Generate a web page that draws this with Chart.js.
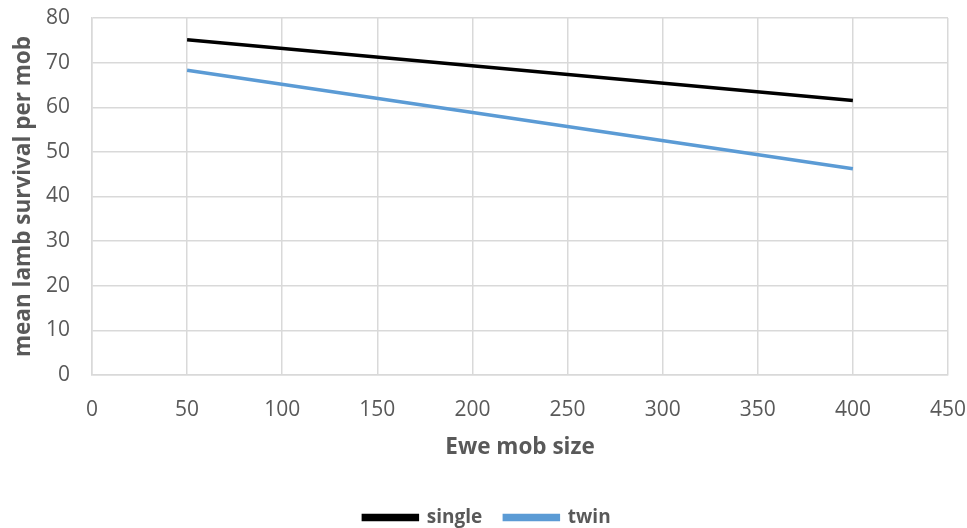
<!DOCTYPE html>
<html>
<head>
<meta charset="utf-8">
<script src="https://cdn.jsdelivr.net/npm/chart.js@4/dist/chart.umd.min.js"></script>
<style>
  html, body { margin: 0; padding: 0; background: #fff; }
  #wrap { width: 967px; height: 528px; }
</style>
</head>
<body>
<div id="wrap"><canvas id="mycanvas" width="967" height="528"></canvas></div>
<script>
// ewe mob size vs mean lamb survival
var mobSize = [50, 400];
var single = [75.1, 61.5];
var twin = [68.3, 46.2];
var xTicks = [0, 50, 100, 150, 200, 250, 300, 350, 400, 450];
var yTicks = [0, 10, 20, 30, 40, 50, 60, 70, 80];

function toPoints(xs, ys) {
  var pts = [];
  for (var i in xs) {
    pts.push({ x: xs[i], y: ys[i] });
  }
  return pts;
}

var grey = '#595959';
var gridColor = '#d9d9d9';
var font = "'Open Sans', sans-serif";

// fixed box sizes so the plot area lands where we want it
var yAxisWidth = 92;
var xAxisHeight = 111;
var legendHeight = 42;
var legendShift = 13;

// keep the legend item gap wide but the legend strip short
var shortLegend = {
  id: 'shortLegend',
  afterInit: function(chart) {
    var lg = chart.legend;
    if (!lg) return;
    var fit = lg.fit;
    lg.fit = function() {
      fit.call(this);
      this.height = legendHeight;
    };
  },
  afterLayout: function(chart) {
    var lg = chart.legend;
    if (!lg) return;
    lg.left += legendShift;
    lg.right += legendShift;
  }
};

function noOverflow(axis) {
  axis.paddingLeft = 0;
  axis.paddingRight = 0;
  axis.paddingTop = 0;
  axis.paddingBottom = 0;
}

var ctx = document.getElementById('mycanvas');

new Chart(ctx, {
  type: 'scatter',
  plugins: [shortLegend],
  data: {
    datasets: [
      {
        label: 'single',
        data: toPoints(mobSize, single),
        showLine: true,
        borderColor: '#000000',
        backgroundColor: '#000000',
        borderWidth: 3.5,
        pointRadius: 0,
        pointHoverRadius: 0
      },
      {
        label: 'twin',
        data: toPoints(mobSize, twin),
        showLine: true,
        borderColor: '#5b9bd5',
        backgroundColor: '#5b9bd5',
        borderWidth: 3.5,
        pointRadius: 0,
        pointHoverRadius: 0
      }
    ]
  },
  options: {
    responsive: false,
    animation: false,
    layout: { padding: { left: 0, right: 19, top: 18, bottom: 0 } },
    scales: {
      x: {
        type: 'linear',
        min: xTicks[0],
        max: xTicks[xTicks.length - 1],
        afterBuildTicks: function(axis) {
          axis.ticks = xTicks.map(function(v) { return { value: v }; });
        },
        afterFit: function(axis) {
          axis.height = xAxisHeight;
          noOverflow(axis);
        },
        grid: { color: gridColor, lineWidth: 1.5, drawTicks: false },
        border: { color: gridColor, width: 1.5 },
        ticks: { color: grey, font: { family: font, size: 21 }, padding: 22, maxRotation: 0 },
        title: {
          display: true,
          text: 'Ewe mob size',
          color: grey,
          font: { family: font, size: 22.5, weight: 'bold' },
          padding: { top: 0, bottom: 25 }
        }
      },
      y: {
        type: 'linear',
        min: yTicks[0],
        max: yTicks[yTicks.length - 1],
        afterBuildTicks: function(axis) {
          axis.ticks = yTicks.map(function(v) { return { value: v }; });
        },
        afterFit: function(axis) {
          axis.width = yAxisWidth;
          noOverflow(axis);
        },
        grid: { color: gridColor, lineWidth: 1.5, drawTicks: false },
        border: { color: gridColor, width: 1.5 },
        ticks: { color: grey, font: { family: font, size: 21 }, padding: 22 },
        title: {
          display: true,
          text: 'mean lamb survival per mob',
          color: grey,
          font: { family: font, size: 22.5, weight: 'bold' },
          padding: { top: 10, bottom: 0 }
        }
      }
    },
    plugins: {
      tooltip: { enabled: false },
      legend: {
        position: 'bottom',
        labels: {
          color: grey,
          font: { family: font, size: 19, weight: 'bold' },
          boxWidth: 54,
          boxHeight: 4,
          padding: 22
        }
      }
    }
  }
});
</script>
</body>
</html>
